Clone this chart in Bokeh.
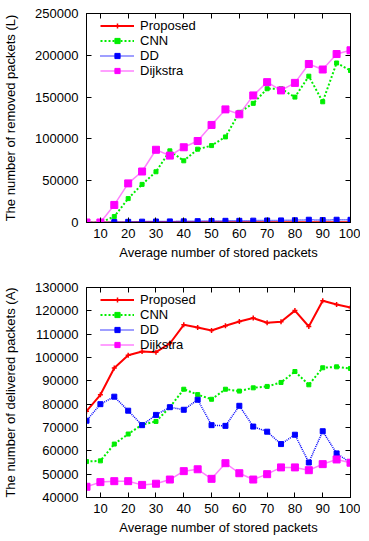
from bokeh.plotting import figure
from bokeh.models import (Range1d, LinearAxis, Legend, LegendItem, FixedTicker,
                          BasicTickFormatter, CustomLabelingPolicy)
from bokeh.layouts import column
from bokeh.embed import file_html
from bokeh.resources import INLINE

x = [5, 10, 15, 20, 25, 30, 35, 40, 45, 50, 55, 60, 65, 70, 75, 80, 85, 90, 95, 100]

# Top chart: number of removed packets (L)
removed_proposed = [0, 0, 100, 100, 150, 150, 200, 200, 200, 200, 250, 250, 250, 250, 300, 300, 300, 300, 300, 300]
removed_cnn = [0, 0, 7100, 28600, 45600, 60700, 85700, 73800, 87700, 92000, 102400, 131800, 142500, 160000, 160000, 150000, 175000, 144400, 190800, 181800]
removed_dd = [0, 0, 500, 800, 1000, 1200, 1300, 1400, 1600, 1800, 2000, 2000, 2200, 2400, 2500, 2700, 3300, 2900, 3300, 3200]
removed_dijkstra = [0, 0, 21000, 46800, 61000, 87000, 80000, 90000, 97500, 116700, 135300, 129400, 152000, 167900, 158000, 167000, 189600, 183000, 201500, 206000]

# Bottom chart: number of delivered packets (A)
deliv_proposed = [77000, 84000, 95500, 101000, 102600, 102300, 106000, 114000, 112900, 111600, 113600, 115400, 116900, 114900, 115300, 120100, 113300, 124300, 122700, 121400]
deliv_cnn = [55400, 55700, 62900, 67200, 71200, 72600, 78700, 86400, 84100, 82100, 86400, 85600, 87000, 87600, 89300, 94000, 88300, 95600, 96000, 95300]
deliv_dd = [72900, 80000, 83200, 77200, 71000, 75400, 78700, 77600, 81900, 71000, 70700, 79300, 70400, 68200, 62900, 66900, 55000, 68400, 58900, 54900]
deliv_dijkstra = [44600, 46600, 47000, 47000, 45400, 45900, 47700, 51300, 52100, 48000, 54700, 50400, 47700, 50000, 52900, 52900, 51700, 54300, 56300, 54900]

series_names = ["Proposed", "CNN", "DD", "Dijkstra"]
x_ticks = [10, 20, 30, 40, 50, 60, 70, 80, 90, 100]
top_ticks = [0, 50000, 100000, 150000, 200000, 250000]
bottom_ticks = [40000, 50000, 60000, 70000, 80000, 90000, 100000, 110000, 120000, 130000]

FONT = "Liberation Sans"
FS = "13px"

HIDE_ALL = CustomLabelingPolicy(code="""
const a = Array.from(indices);
for (const i of a) {
  if (typeof indices.unset === 'function') { indices.unset(i); } else { indices.set(i, false); }
}
return indices;
""")


def style_axis(ax, ticks, label=None, show_labels=True, label_standoff=8, axis_label_standoff=5):
    ax.ticker = FixedTicker(ticks=ticks)
    ax.major_tick_in = 5
    ax.major_tick_out = 0
    ax.minor_tick_in = 0
    ax.minor_tick_out = 0
    ax.major_tick_line_color = "black"
    ax.axis_line_color = "black"
    ax.major_label_text_font = FONT
    ax.major_label_text_color = "black"
    ax.major_label_standoff = label_standoff
    ax.formatter = BasicTickFormatter(use_scientific=False)
    if show_labels:
        ax.major_label_text_font_size = FS
    else:
        ax.major_label_text_font_size = "1px"
        ax.major_label_standoff = 0
        ax.major_label_policy = HIDE_ALL
    if label is not None:
        ax.axis_label = label
        ax.axis_label_text_font = FONT
        ax.axis_label_text_font_size = FS
        ax.axis_label_text_font_style = "normal"
        ax.axis_label_text_color = "black"
        ax.axis_label_standoff = axis_label_standoff


def make_plot(yvals, yrange, yticks, ylabel, height, border_top, border_bottom):
    frame_h = height - border_top - border_bottom
    p = figure(output_backend="svg", toolbar_location=None,
               width=360, height=height,
               min_border_left=84, min_border_right=10,
               min_border_top=border_top, min_border_bottom=border_bottom,
               x_range=Range1d(5, 100), y_range=Range1d(*yrange))
    p.xgrid.visible = False
    p.ygrid.visible = False
    p.outline_line_color = "black"
    p.outline_line_width = 1
    p.outline_line_alpha = 1

    style_axis(p.xaxis[0], x_ticks, "Average number of stored packets", label_standoff=6, axis_label_standoff=4)
    style_axis(p.yaxis[0], yticks, ylabel, label_standoff=8, axis_label_standoff=14)

    top_ax = LinearAxis()
    style_axis(top_ax, x_ticks, show_labels=False)
    p.add_layout(top_ax, "above")
    right_ax = LinearAxis()
    style_axis(right_ax, yticks, show_labels=False)
    p.add_layout(right_ax, "right")

    prop, cnn, dd, dij = yvals
    items = []
    l1 = p.line(x, prop, line_color="#ff0000", line_width=2)
    m1 = p.scatter(x, prop, marker="cross", size=5, line_color="#ff0000", line_width=1.5)
    items.append(LegendItem(label=series_names[0], renderers=[l1, m1]))
    l2 = p.line(x, cnn, line_color="#00ee00", line_width=2, line_dash="2 2")
    m2 = p.scatter(x, cnn, marker="square", size=4, fill_color="#00ee00", line_color="#00ee00")
    items.append(LegendItem(label=series_names[1], renderers=[l2, m2]))
    l3 = p.line(x, dd, line_color="#0000ff", line_width=1.5, line_dash="1 1")
    m3 = p.scatter(x, dd, marker="square", size=5, fill_color="#0000ff", line_color="#0000ff")
    items.append(LegendItem(label=series_names[2], renderers=[l3, m3]))
    l4 = p.line(x, dij, line_color="#ff80ff", line_width=1.5)
    m4 = p.scatter(x, dij, marker="square", size=7, fill_color="#ff00ff", line_color="#ff00ff")
    items.append(LegendItem(label=series_names[3], renderers=[l4, m4]))

    legend = Legend(items=items, location=(14, frame_h - 65))
    legend.background_fill_alpha = 0
    legend.border_line_alpha = 0
    legend.padding = 0
    legend.margin = 0
    legend.spacing = 0
    legend.label_height = 13
    legend.glyph_height = 13
    legend.glyph_width = 34
    legend.label_standoff = 6
    legend.label_text_font = FONT
    legend.label_text_font_size = FS
    legend.label_text_line_height = 1.0
    legend.label_text_color = "black"
    p.add_layout(legend, "center")
    return p


p1 = make_plot([removed_proposed, removed_cnn, removed_dd, removed_dijkstra],
               (0, 250000), top_ticks, "The number of removed packets (L)",
               263, 13, 41)
p2 = make_plot([deliv_proposed, deliv_cnn, deliv_dd, deliv_dijkstra],
               (40000, 130000), bottom_ticks, "The number of delivered packets (A)",
               274, 24, 40)

layout = column(p1, p2, spacing=0)
open("out.html", "w").write(file_html(layout, INLINE))
